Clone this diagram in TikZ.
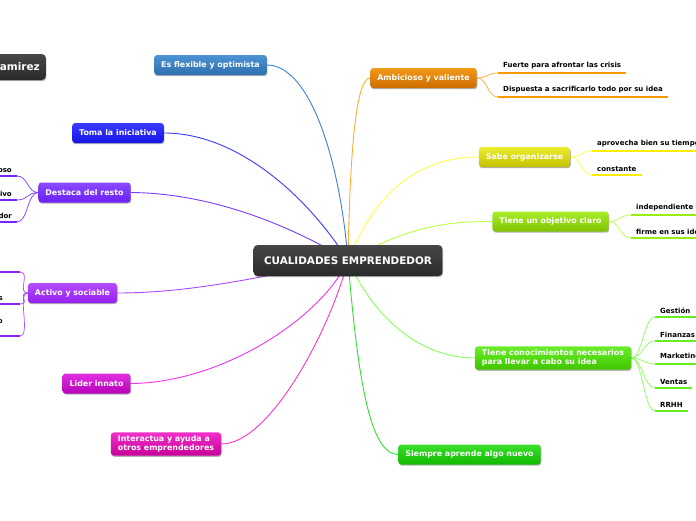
\documentclass[tikz,border=0pt]{standalone}
\usepackage{fontspec}
\setmainfont{DejaVu Sans}
\usetikzlibrary{shadows,backgrounds}
\newcommand\mnfont{\fontsize{7.9}{9.6}\selectfont\bfseries}
\newcommand\ctfont{\fontsize{10.4}{12}\selectfont\bfseries}
\newcommand\kdfont{\fontsize{7}{8.8}\selectfont\bfseries}
\newcommand\nmfont{\fontsize{10.5}{12}\selectfont\bfseries}
\definecolor{flexT}{HTML}{4B93D4}\definecolor{flexB}{HTML}{2F6FAE}\definecolor{flexL}{HTML}{3A7FD6}
\definecolor{tomaT}{HTML}{3B3BFF}\definecolor{tomaB}{HTML}{1414E6}\definecolor{tomaL}{HTML}{3A3AFF}
\definecolor{destT}{HTML}{8A4BFF}\definecolor{destB}{HTML}{6A1FF5}\definecolor{destL}{HTML}{7A3CFF}\definecolor{destK}{HTML}{7722FF}
\definecolor{actT}{HTML}{B44BFF}\definecolor{actB}{HTML}{9520EF}\definecolor{actL}{HTML}{A64CFF}\definecolor{actK}{HTML}{9922EE}
\definecolor{lidT}{HTML}{E030E0}\definecolor{lidB}{HTML}{B800B8}\definecolor{lidL}{HTML}{EE33EE}
\definecolor{intT}{HTML}{F030C8}\definecolor{intB}{HTML}{C8009A}\definecolor{intL}{HTML}{FF33CC}
\definecolor{ambT}{HTML}{F29A1A}\definecolor{ambB}{HTML}{CC6C00}\definecolor{ambL}{HTML}{FFAA33}\definecolor{ambK}{HTML}{FF9900}
\definecolor{sabT}{HTML}{EDED30}\definecolor{sabB}{HTML}{C2C200}\definecolor{sabL}{HTML}{FFFF44}\definecolor{sabK}{HTML}{FFEE00}
\definecolor{objT}{HTML}{A8EC2A}\definecolor{objB}{HTML}{80C400}\definecolor{objL}{HTML}{BBFF44}\definecolor{objK}{HTML}{99EE11}
\definecolor{conT}{HTML}{6AEE2A}\definecolor{conB}{HTML}{3FC400}\definecolor{conL}{HTML}{88FF55}\definecolor{conK}{HTML}{66EE22}
\definecolor{siT}{HTML}{3AE02A}\definecolor{siB}{HTML}{10B800}\definecolor{siL}{HTML}{33DD33}
\definecolor{ctrT}{HTML}{474747}\definecolor{ctrB}{HTML}{2A2A2A}
\tikzset{
  mainbox/.style 2 args={rounded corners=3pt, top color=#1, bottom color=#2, draw=none,
    text=white, font=\mnfont, inner xsep=7pt, inner ysep=3pt, minimum height=20pt, align=left,
    drop shadow={shadow xshift=0.6pt, shadow yshift=-1.2pt, opacity=0.3, fill=black}},
  ctrbox/.style={rounded corners=4pt, top color=ctrT, bottom color=ctrB, draw=none,
    text=white, font=\ctfont, inner xsep=10.5pt, minimum height=31pt,
    drop shadow={shadow xshift=0.6pt, shadow yshift=-1.2pt, opacity=0.3, fill=black}},
  conn/.style={draw=#1, line width=0.9pt},
  kidR/.style={font=\kdfont, text=black, inner xsep=5pt, inner ysep=3.4pt, anchor=south west,
    append after command={(\tikzlastnode.south west) edge[draw=#1, line width=2.4pt] (\tikzlastnode.south east)}},
  kidL/.style={font=\kdfont, text=black, inner xsep=5pt, inner ysep=3.4pt, anchor=south east, align=right,
    append after command={(\tikzlastnode.south west) edge[draw=#1, line width=2.4pt] (\tikzlastnode.south east)}},
}
\begin{document}
\begin{tikzpicture}[x=1pt,y=-1pt]
\useasboundingbox (0,0) rectangle (696,520);
% central and main nodes
\node[ctrbox] (ctr) at (348,260.5) {CUALIDADES EMPRENDEDOR};
\node[ctrbox, font=\nmfont, minimum height=26pt, inner xsep=6pt, anchor=east] (nm) at (46,67) {amirez};

\node[mainbox={flexT}{flexB}] (flex) at (210.5,65) {Es flexible y optimista};
\node[mainbox={tomaT}{tomaB}] (toma) at (118,133) {Toma la iniciativa};
\node[mainbox={destT}{destB}] (dest) at (84.5,192.5) {Destaca del resto};
\node[mainbox={actT}{actB}] (act) at (72.5,293) {Activo y sociable};
\node[mainbox={lidT}{lidB}] (lid) at (96.5,383.5) {Lider innato};
\node[mainbox={intT}{intB}] (int) at (166,444) {Interactua y ayuda a\\otros emprendedores};

\node[mainbox={ambT}{ambB}] (amb) at (423.5,78) {Ambicioso y valiente};
\node[mainbox={sabT}{sabB}] (sab) at (524.5,157) {Sabe organizarse};
\node[mainbox={objT}{objB}] (obj) at (550.5,221.5) {Tiene un objetivo claro};
\node[mainbox={conT}{conB}] (con) at (553,358) {Tiene conocimientos necesarios\\para llevar a cabo su idea};
\node[mainbox={siT}{siB}] (si) at (469.5,454.5) {Siempre aprende algo nuevo};

% children
\node[kidL=destK] (d1) at (17,176) {oso};
\node[kidL=destK] (d2) at (17,200) {ivo};
\node[kidL=destK] (d3) at (17,222) {dor};

\node[kidL=actK, minimum width=30pt] (s1) at (20,272) {};
\node[kidL=actK] (s2) at (20,304) {s\rule{12pt}{0pt}};
\node[kidL=actK] (s3) at (20,336) {o\rule{12pt}{0pt}\\\mbox{}};

\node[kidR=ambK] (a1) at (498,73) {Fuerte para afrontar las crisis};
\node[kidR=ambK] (a2) at (498,97) {Dispuesta a sacrificarlo todo por su idea};

\node[kidR=sabK] (o1) at (592,151) {aprovecha bien su tiempo};
\node[kidR=sabK] (o2) at (592,175) {constante};

\node[kidR=objK] (b1) at (631,215) {independiente};
\node[kidR=objK] (b2) at (631,238) {firme en sus ideas};

\node[kidR=conK] (c1) at (655,317) {Gestión};
\node[kidR=conK] (c2) at (655,341) {Finanzas};
\node[kidR=conK] (c3) at (655,364) {Marketing};
\node[kidR=conK] (c4) at (655,388) {Ventas};
\node[kidR=conK] (c5) at (655,411) {RRHH};

\begin{pgfonlayer}{background}
% main connectors
\draw[conn=flexL] (flex.east) .. controls (310,65) and (340,160) .. (ctr.center);
\draw[conn=tomaL] (toma.east) .. controls (240,133) and (310,200) .. (ctr.center);
\draw[conn=destL] (dest.east) .. controls (210,193) and (290,225) .. (ctr.center);
\draw[conn=actL] (act.east) .. controls (200,293) and (280,272) .. (ctr.center);
\draw[conn=lidL] (lid.east) .. controls (220,383) and (320,320) .. (ctr.center);
\draw[conn=intL] (int.east) .. controls (270,444) and (330,330) .. (ctr.center);

\draw[conn=ambL] (ctr.center) .. controls (350,150) and (356,78) .. (amb.west);
\draw[conn=sabL] (ctr.center) .. controls (380,180) and (430,157) .. (sab.west);
\draw[conn=objL] (ctr.center) .. controls (410,225) and (450,221.5) .. (obj.west);
\draw[conn=conL] (ctr.center) .. controls (380,330) and (430,358) .. (con.west);
\draw[conn=siL] (ctr.center) .. controls (358,380) and (370,454.5) .. (si.west);

% child connectors
\foreach \k in {d1,d2,d3}{\draw[conn=destL, line width=0.7pt] (dest.west) .. controls +(-11,0) and +(11,0) .. (\k.south east);}
\foreach \k in {s1,s2,s3}{\draw[conn=actL, line width=0.7pt] (act.west) .. controls +(-11,0) and +(11,0) .. (\k.south east);}
\foreach \k in {a1,a2}{\draw[conn=ambL, line width=0.7pt] (amb.east) .. controls +(11,0) and +(-11,0) .. (\k.south west);}
\foreach \k in {o1,o2}{\draw[conn=sabL, line width=0.7pt] (sab.east) .. controls +(11,0) and +(-11,0) .. (\k.south west);}
\foreach \k in {b1,b2}{\draw[conn=objL, line width=0.7pt] (obj.east) .. controls +(11,0) and +(-11,0) .. (\k.south west);}
\foreach \k in {c1,c2,c3,c4,c5}{\draw[conn=conL, line width=0.7pt] (con.east) .. controls +(11,0) and +(-11,0) .. (\k.south west);}
\end{pgfonlayer}
\end{tikzpicture}
\end{document}
